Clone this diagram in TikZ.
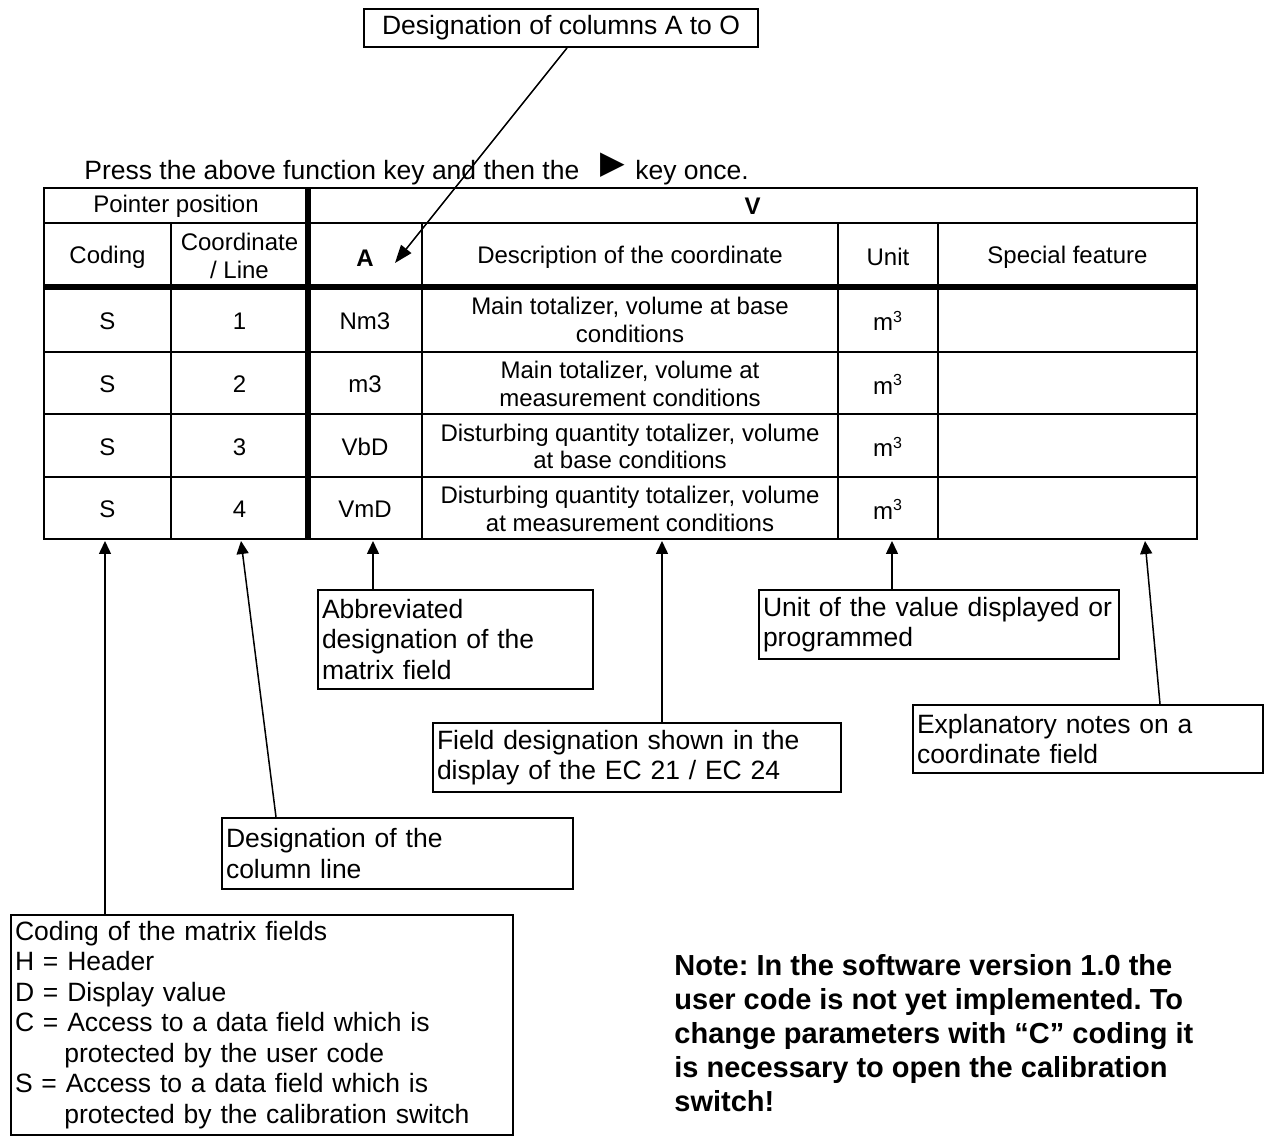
\documentclass[tikz,border=0pt]{standalone}
\usepackage{fontspec}
\setmainfont{Liberation Sans}
\newfontfamily\trifont{DejaVu Sans}
\usetikzlibrary{arrows.meta}
\newcommand\boxfont{\fontsize{13.25}{15.25}\selectfont}
\newcommand\cellfont{\fontsize{12}{13.75}\selectfont}
\newcommand\notefont{\fontsize{14.5}{17}\selectfont\bfseries}
\frenchspacing
\begin{document}
\frenchspacing
\begin{tikzpicture}[x=0.5pt,y=-0.5pt]
\tikzset{
  annot/.style={draw, line width=1pt, inner sep=0pt, font=\boxfont, align=left},
  arr/.style={line width=0.75pt, -{Triangle[length=6.5pt,width=6pt]}},
  arrbig/.style={line width=0.75pt, -{Triangle[length=9pt,width=6.5pt]}},
  cell/.style={font=\cellfont, align=center, inner sep=0pt},
  tabline/.style={line width=1pt},
  tabthick/.style={line width=2.75pt},
}
\fill[white] (0,0) rectangle (1264,1138);
\useasboundingbox (0,0) rectangle (1264,1138);

% ---------- top label ----------
\node[annot, align=center, minimum width=197pt, minimum height=19pt] (topbox) at (561,28) {Designation of columns A to O};

% ---------- instruction line ----------
\node[anchor=base west, font=\boxfont, inner sep=0pt] (press) at (84,180) {Press the above function key and then the};
\node[anchor=west, font=\trifont\fontsize{16}{16}\selectfont, inner sep=0pt] (tri) at (600,165.5) {▶};
\node[anchor=base west, font=\boxfont, inner sep=0pt] (once) at (635,180) {key once.};

% ---------- table grid ----------
\draw[tabline] (44,188) rectangle (1197,539);
\draw[tabline] (44,223) -- (1197,223);
\draw[tabline] (44,352) -- (1197,352);
\draw[tabline] (44,414) -- (1197,414);
\draw[tabline] (44,477) -- (1197,477);
\draw[tabline] (171,223) -- (171,539);
\draw[tabline] (422,223) -- (422,539);
\draw[tabline] (838,223) -- (838,539);
\draw[tabline] (938,223) -- (938,539);
\draw[tabthick] (44,287) -- (1197,287);
\draw[tabthick] (308,188) -- (308,539);

% ---------- table text ----------
\node[cell] (hpp) at (176,206) {Pointer position};
\node[cell, font=\cellfont\bfseries] (hv) at (752.5,206) {V};
\node[cell] (hcod) at (107.5,257) {Coding};
\node[cell] (hcoo) at (239.5,256) {Coordinate\\/ Line};
\node[cell, font=\cellfont\bfseries] (ha) at (365,258) {A};
\node[cell] (hdes) at (630,257) {Description of the coordinate};
\node[cell] (huni) at (888,257) {Unit};
\node[cell] (hspe) at (1067.5,257) {Special feature};

\node[cell] (s1) at (107.5,321) {S};
\node[cell] (c1) at (239.5,321) {1};
\node[cell] (a1) at (365,321) {Nm3};
\node[cell] (d1) at (630,320) {Main totalizer, volume at base\\conditions};
\node[cell] (u1) at (888,321) {m\textsuperscript{3}};

\node[cell] (s2) at (107.5,384.5) {S};
\node[cell] (c2) at (239.5,384.5) {2};
\node[cell] (a2) at (365,384.5) {m3};
\node[cell] (d2) at (630,384) {Main totalizer, volume at\\measurement conditions};
\node[cell] (u2) at (888,384.5) {m\textsuperscript{3}};

\node[cell] (s3) at (107.5,447) {S};
\node[cell] (c3) at (239.5,447) {3};
\node[cell] (a3) at (365,447) {VbD};
\node[cell] (d3) at (630,446.5) {Disturbing quantity totalizer, volume\\at base conditions};
\node[cell] (u3) at (888,447) {m\textsuperscript{3}};

\node[cell] (s4) at (107.5,509.5) {S};
\node[cell] (c4) at (239.5,509.5) {4};
\node[cell] (a4) at (365,509.5) {VmD};
\node[cell] (d4) at (630,509) {Disturbing quantity totalizer, volume\\at measurement conditions};
\node[cell] (u4) at (888,509.5) {m\textsuperscript{3}};

% ---------- arrow targets on the table ----------
\coordinate (tA) at (395,263);
\coordinate (tCoding) at (105,541);
\coordinate (tCoord) at (241,541);
\coordinate (tAbbr) at (373,541);
\coordinate (tDesc) at (662,541);
\coordinate (tUnit) at (892,541);
\coordinate (tSpec) at (1145,541);

% ---------- callout boxes ----------
\node[annot, minimum width=137.5pt, minimum height=49.5pt, text width=133.5pt] (abox) at (455.5,639.5)
  {Abbreviated\\designation of the\\matrix field};
\node[annot, minimum width=175.5pt, minimum height=35.5pt, text width=171.5pt] (colbox) at (397.5,853.5)
  {Designation of the\\column line};
\node[annot, minimum width=204pt, minimum height=34.5pt, text width=200pt] (fbox) at (637,757.5)
  {Field designation shown in the\\display of the EC 21 / EC 24};
\node[annot, minimum width=180pt, minimum height=34.5pt, text width=176pt] (ubox) at (939,624.5)
  {Unit of the value displayed or\\programmed};
\node[annot, minimum width=175pt, minimum height=34pt, text width=171pt] (ebox) at (1088,739)
  {Explanatory notes on a\\coordinate field};
\node[annot, minimum width=251pt, minimum height=110pt, text width=247pt] (cbox) at (262,1025)
  {Coding of the matrix fields\\
   H = Header\\
   D = Display value\\
   C = Access to a data field which is\\
   \hspace*{24.7pt}protected by the user code\\
   S = Access to a data field which is\\
   \hspace*{24.7pt}protected by the calibration switch};

% ---------- note ----------
\node[anchor=north west, font=\notefont, align=left, inner sep=0pt] (note) at (674,954)
  {Note: In the software version 1.0 the\\
   user code is not yet implemented. To\\
   change parameters with “C” coding it\\
   is necessary to open the calibration\\
   switch!};

% ---------- connectors ----------
\draw[arrbig] ([xshift=3pt]topbox.south) -- (tA);
\draw[arr] (cbox.north -| tCoding) -- (tCoding);
\draw[arr] ([xshift=27.5pt]colbox.north west) -- (tCoord);
\draw[arr] (abox.north -| tAbbr) -- (tAbbr);
\draw[arr] (fbox.north -| tDesc) -- (tDesc);
\draw[arr] (ubox.north -| tUnit) -- (tUnit);
\draw[arr] ([xshift=124pt]ebox.north west) -- (tSpec);
\end{tikzpicture}
\end{document}
